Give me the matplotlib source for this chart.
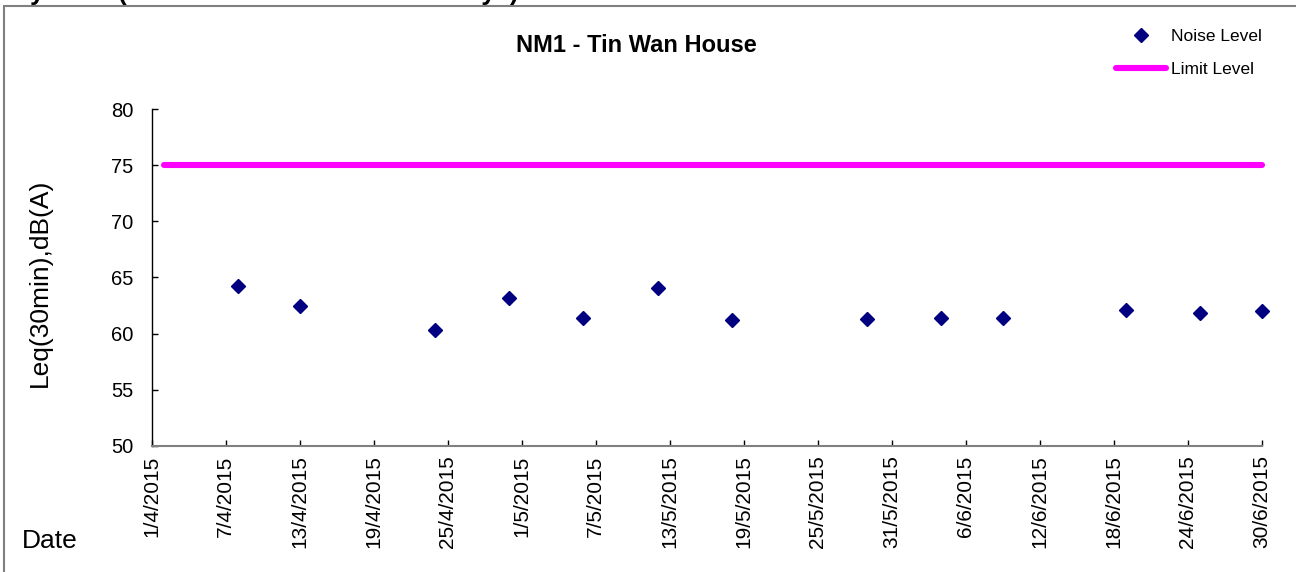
import numpy as np
import pandas as pd
import matplotlib
matplotlib.use("Agg")
import matplotlib.pyplot as plt
from matplotlib.patches import Rectangle

plt.rcParams['font.family'] = ['Liberation Sans', 'DejaVu Sans']

# noise monitoring data, NM1
noise_dates = ['2015-04-08', '2015-04-13', '2015-04-24', '2015-04-30', '2015-05-06',
               '2015-05-12', '2015-05-18', '2015-05-29', '2015-06-04', '2015-06-09',
               '2015-06-19', '2015-06-25', '2015-06-30']
noise_level = [64.2, 62.5, 60.3, 63.2, 61.4, 64.1, 61.2, 61.3, 61.4, 61.4, 62.1, 61.8, 62.0]

limit_dates = ['2015-04-02', '2015-06-30']
limit_level = [75, 75]

tick_start = '2015-04-01'
tick_end = '2015-06-30'
yticks = [50, 55, 60, 65, 70, 75, 80]

W, H = 1296, 572
fig = plt.figure(figsize=(W / 100, H / 100), dpi=100)
ax = fig.add_axes([151.7 / W, 1 - 445.7 / H, (1262 - 151.7) / W, (445.7 - 109.3) / H])

nd = pd.to_datetime(noise_dates)
ld = pd.to_datetime(limit_dates)
ticks = pd.date_range(tick_start, tick_end, freq='6D')

ax.plot(ld, limit_level, color='#ff00ff', lw=4.4, solid_capstyle='round',
        label='Limit Level', zorder=2, clip_on=False)
ax.plot(nd, noise_level, ls='none', marker='D', ms=7.2, color='#000080',
        label='Noise Level', zorder=3, clip_on=False)

ax.set_xlim(ticks[0], ticks[-1])
ax.set_ylim(50, 80)
ax.set_xticks(ticks)
ax.set_xticklabels([f"{d.day}/{d.month}/{d.year}" for d in ticks], rotation=90)
ax.set_yticks(yticks)
ax.tick_params(axis='both', direction='in', length=4, width=1, color='black', labelsize=14.5)
ax.tick_params(axis='x', pad=7, labelsize=15)
ax.tick_params(axis='y', pad=13)

for s in ['top', 'right']:
    ax.spines[s].set_visible(False)
ax.spines['bottom'].set_color('#808080')
ax.spines['bottom'].set_linewidth(1.5)
ax.spines['left'].set_color('black')
ax.spines['left'].set_linewidth(1)

# legend at top right
handles, labels = ax.get_legend_handles_labels()
fig.legend(handles[::-1], labels[::-1], loc='upper left',
           bbox_to_anchor=(1116 / W, 1 - 29 / H), frameon=False, fontsize=12.5,
           handlelength=2.9, handletextpad=0.25, labelspacing=1.0,
           borderpad=0, borderaxespad=0)

fig.text(636 / W, 1 - 45 / H, 'NM1 - Tin Wan House', ha='center', va='center',
         fontsize=17, fontweight='bold')
fig.text(40 / W, 1 - 283 / H, 'Leq(30min),dB(A)', rotation=90, ha='center',
         va='center', fontsize=19)
fig.text(22 / W, 1 - 541 / H, 'Date', ha='left', va='center', fontsize=19)

# caption above chart area, cut off at the top of the image
fig.text(-3 / W, 1.0, 'Day Time (0700-1900 on normal weekdays)', ha='left',
         va='baseline', fontsize=18.5, fontweight='bold')

# chart area border
fig.patches.append(Rectangle((3.5 / W, -0.1), 1.2, 1.1 - 5.5 / H, transform=fig.transFigure,
                             fill=False, ec='#808080', lw=1.5))

fig.savefig('out.png', dpi=100)
